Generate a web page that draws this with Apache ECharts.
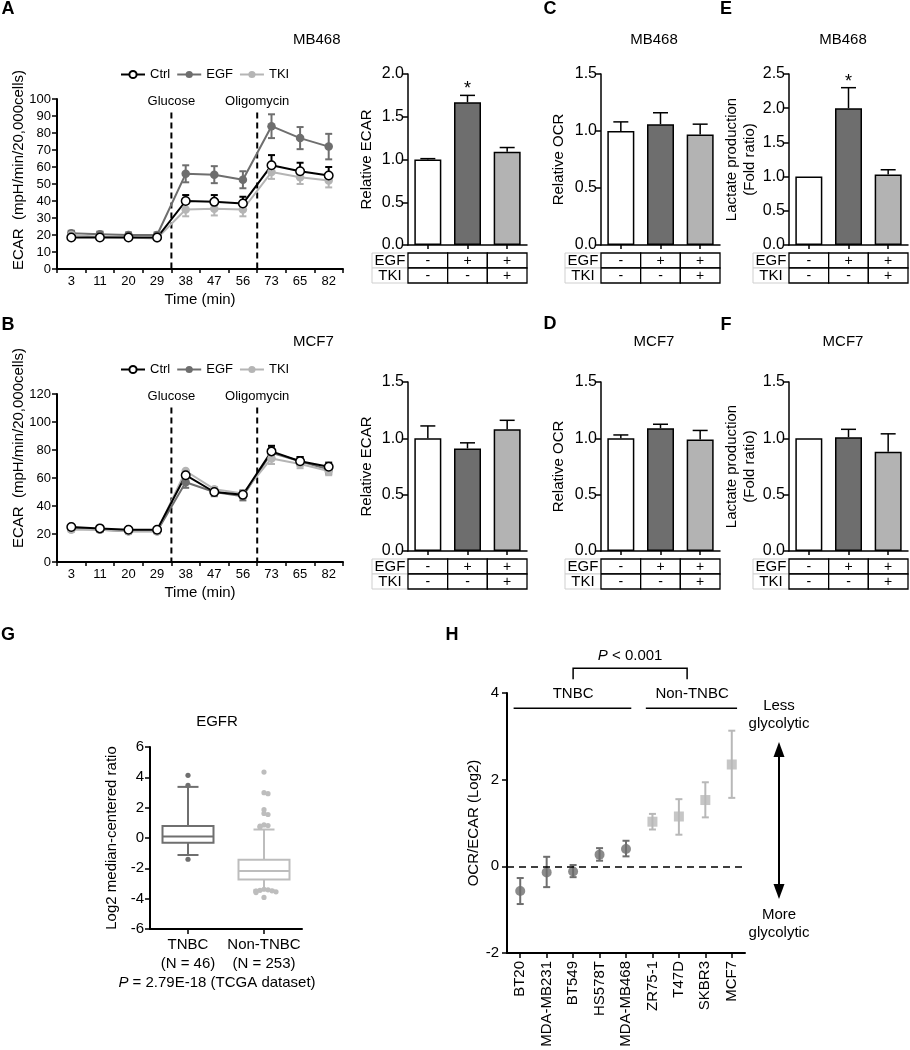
<!DOCTYPE html>
<html><head><meta charset="utf-8">
<script src="https://cdn.jsdelivr.net/npm/echarts@6/dist/echarts.min.js"></script>
<style>html,body{margin:0;padding:0;background:#fff}#c{width:910px;height:1050px}</style>
</head><body><div id="c"></div><script>
// ---------------- DATA ----------------
const timeLabels = ['3','11','20','29','38','47','56','73','65','82'];
const injections = ['Glucose','Oligomycin'];
const injectionAfter = [3, 6];
const seriesNames = ['Ctrl','EGF','TKI'];

const mb468Ctrl    = [18.5,18.5,18.5,18.5,40,39.5,38.5,61,57.5,55];
const mb468CtrlErr = [1,1,1,1,3.5,4,4,6,5,5];
const mb468Egf     = [21,20.5,20,20,56,55.5,52.5,84,77,72];
const mb468EgfErr  = [1.5,1.5,1.5,1.5,5,5,5,7,6.5,7.5];
const mb468Tki     = [20,19,18.5,18,35,35.5,35,57,54,52];
const mb468TkiErr  = [1,1,1,1,4,4,4,4,4,4];

const mcf7Ctrl    = [25,24,23,23,62,50,48,79,72,68];
const mcf7CtrlErr = [1.5,1.5,1.5,1.5,3,3,3,4,3,3];
const mcf7Egf     = [24,23,22,22,57,50,47,78,72,66];
const mcf7EgfErr  = [1.5,1.5,1.5,1.5,4,3,3,4,3,3];
const mcf7Tki     = [23,23,22,22,65,52,49,74,70,65];
const mcf7TkiErr  = [1.5,1.5,1.5,1.5,3,3,3,4,3,3];

const conditions = ['Ctrl','EGF','TKI'];
const tableRows = ['EGF','TKI'];
const egfRow = ['-','+','+'];
const tkiRow = ['-','-','+'];

const ecarMB468 = [1.0,1.67,1.09];  const ecarMB468Err = [0.01,0.08,0.05]; const ecarMB468Sig = ['','*',''];
const ocrMB468  = [1.0,1.06,0.97];  const ocrMB468Err  = [0.08,0.10,0.09]; const ocrMB468Sig  = ['','',''];
const lacMB468  = [1.0,2.0,1.03];   const lacMB468Err  = [0,0.30,0.07];    const lacMB468Sig  = ['','*',''];
const ecarMCF7  = [1.0,0.91,1.08];  const ecarMCF7Err  = [0.11,0.05,0.08]; const ecarMCF7Sig  = ['','',''];
const ocrMCF7   = [1.0,1.09,0.99];  const ocrMCF7Err   = [0.03,0.035,0.08]; const ocrMCF7Sig  = ['','',''];
const lacMCF7   = [1.0,1.01,0.88];  const lacMCF7Err   = [0,0.07,0.16];    const lacMCF7Sig   = ['','',''];

const boxGroups = ['TNBC','Non-TNBC'];
const boxN = [46, 253];
const tnbcBox    = [-1.12,-0.32,0.1,0.79,3.37];   // min, Q1, median, Q3, max
const nonTnbcBox = [-3.42,-2.74,-2.17,-1.43,0.56];
const tnbcOut    = [4.13,3.47,-1.4];
const nonTnbcOut = [4.35,2.99,2.92,1.87,1.62,1.55,0.86,0.82,0.78,0.72,
                    -3.38,-3.42,-3.45,-3.48,-3.5,-3.52,-3.55,-3.6,-3.92];

const cellLines = ['BT20','MDA-MB231','BT549','HS578T','MDA-MB468','ZR75-1','T47D','SKBR3','MCF7'];
const cellGroup = ['TNBC','TNBC','TNBC','TNBC','TNBC','Non-TNBC','Non-TNBC','Non-TNBC','Non-TNBC'];
const ocrEcar     = [-0.57,-0.14,-0.12,0.27,0.40,1.03,1.15,1.53,2.35];
const ocrEcarLow  = [-0.87,-0.48,-0.25,0.13,0.23,0.85,0.73,1.13,1.58];
const ocrEcarHigh = [-0.27,0.22,0.03,0.42,0.59,1.21,1.55,1.94,3.13];
const groupSpans = [[0,4],[5,8]];

// ---------------- STYLE ----------------
const FONT = "'Liberation Sans', Arial, Helvetica, sans-serif";
const F = s => s + 'px ' + FONT;
const C_CTRL = '#000000', C_EGF = '#6e6e6e', C_TKI = '#b5b5b5';
const condFill = ['#ffffff', '#6e6e6e', '#b3b3b3'];
const lineColors = {Ctrl:C_CTRL, EGF:C_EGF, TKI:C_TKI};

const grid = [], xAxis = [], yAxis = [], series = [];

function blackAxisLine(w){ return {show:true, onZero:false, lineStyle:{color:'#000', width:w}}; }
function ticks(len, align){ return {show:true, length:len, alignWithLabel:!!align, lineStyle:{color:'#000', width:1.5}}; }

// ---------- line charts ----------
function addLineChart(rect, ymax, yint, vals, errs) {
  const gi = grid.length;
  grid.push(Object.assign({outerBoundsMode:'none', containLabel:false}, rect));
  xAxis.push({gridIndex:gi, type:'category', data:timeLabels, boundaryGap:true,
    axisLine:blackAxisLine(2), axisTick:ticks(4,false),
    axisLabel:{color:'#000', fontSize:13, fontFamily:FONT, margin:6, interval:0},
    name:'Time (min)', nameLocation:'middle', nameGap:23,
    nameTextStyle:{color:'#000', fontSize:15, fontFamily:FONT}, splitLine:{show:false}});
  yAxis.push({gridIndex:gi, type:'value', min:0, max:ymax, interval:yint,
    axisLine:blackAxisLine(2), axisTick:ticks(5),
    axisLabel:{color:'#000', fontSize:13, fontFamily:FONT, margin:6}, splitLine:{show:false}});
  series.push({type:'custom', xAxisIndex:gi, yAxisIndex:gi, silent:true, z:1,
    data: injectionAfter.map(i => [i, 0]), encode:{x:0, y:1},
    renderItem:(p, api) => {
      const bw = api.size([1,0])[0];
      const x = api.coord([api.value(0), 0])[0] + bw/2;
      const y0 = api.coord([0, 0])[1];
      const yTop = api.coord([0, ymax*0.92])[1];
      const yTxt = api.coord([0, ymax*0.985])[1];
      return {type:'group', children:[
        {type:'line', shape:{x1:x, y1:yTop, x2:x, y2:y0}, style:{stroke:'#000', lineWidth:2, lineDash:[6,4]}},
        {type:'text', x:x, y:yTxt, style:{text:injections[p.dataIndex], fill:'#000', font:F(13), align:'center', verticalAlign:'middle'}}
      ]};
    }});
  const dirs = {Ctrl:1, EGF:0, TKI:-1};
  ['EGF','TKI','Ctrl'].forEach(nm => {
    const v = vals[nm], e = errs[nm], col = lineColors[nm], dir = dirs[nm];
    series.push({type:'custom', xAxisIndex:gi, yAxisIndex:gi, silent:true, z:2,
      data: v.map((y,i) => [i, y, e[i]]), encode:{x:0, y:1},
      renderItem:(p, api) => {
        const i = api.value(0), y = api.value(1), er = api.value(2);
        const x = api.coord([i, y])[0];
        const hi = api.coord([i, dir >= 0 ? y + er : y])[1];
        const lo = api.coord([i, dir <= 0 ? y - er : y])[1];
        const w = 3.5, st = {stroke:col, lineWidth:2};
        const ch = [{type:'line', shape:{x1:x, y1:hi, x2:x, y2:lo}, style:st}];
        if (dir >= 0) ch.push({type:'line', shape:{x1:x-w, y1:hi, x2:x+w, y2:hi}, style:st});
        if (dir <= 0) ch.push({type:'line', shape:{x1:x-w, y1:lo, x2:x+w, y2:lo}, style:st});
        return {type:'group', children:ch};
      }});
  });
  ['EGF','TKI','Ctrl'].forEach(nm => {
    const col = lineColors[nm];
    series.push({type:'line', name:nm, xAxisIndex:gi, yAxisIndex:gi, data:vals[nm], z:3,
      symbol:'circle', symbolSize:8.5, showSymbol:true, silent:true,
      lineStyle:{color:col, width:2},
      itemStyle: nm === 'Ctrl' ? {color:'#ffffff', borderColor:'#000', borderWidth:1.5} : {color:col, borderColor:col, borderWidth:0}});
  });
}

// ---------- bar charts ----------
function addBarChart(rect, ymax, vals, errs, sig, yName, nameGap) {
  const gi = grid.length;
  grid.push(Object.assign({outerBoundsMode:'none', containLabel:false}, rect));
  xAxis.push({gridIndex:gi, type:'category', data:conditions, boundaryGap:true,
    axisLine:blackAxisLine(1.5), axisTick:ticks(4,true), axisLabel:{show:false}, splitLine:{show:false}});
  yAxis.push({gridIndex:gi, type:'value', min:0, max:ymax, interval:0.5,
    axisLine:blackAxisLine(1.5), axisTick:ticks(5),
    axisLabel:{color:'#000', fontSize:16, fontFamily:FONT, margin:4, formatter:v => v.toFixed(1)},
    splitLine:{show:false},
    name:yName, nameLocation:'middle', nameGap:nameGap,
    nameTextStyle:{color:'#000', fontSize:15, fontFamily:FONT, lineHeight:18}});
  series.push({type:'bar', xAxisIndex:gi, yAxisIndex:gi, barWidth:27, silent:true, z:2,
    data: vals.map((v,i) => ({value:v, itemStyle:{color:condFill[i]}})),
    itemStyle:{borderColor:'#000', borderWidth:1.5}});
  series.push({type:'custom', xAxisIndex:gi, yAxisIndex:gi, silent:true, z:3,
    data: vals.map((v,i) => [i, v, errs[i]]), encode:{x:0, y:1},
    renderItem:(p, api) => {
      const i = api.value(0), v = api.value(1), e = api.value(2);
      const b = api.coord([i, v]), t = api.coord([i, v + e]);
      const st = {stroke:'#000', lineWidth:1.5};
      const ch = [];
      if (e > 0) {
        ch.push({type:'line', shape:{x1:b[0], y1:b[1], x2:b[0], y2:t[1]}, style:st});
        ch.push({type:'line', shape:{x1:b[0]-7.5, y1:t[1], x2:b[0]+7.5, y2:t[1]}, style:st});
      }
      if (sig[i]) ch.push({type:'text', x:b[0], y:t[1]+3, style:{text:sig[i], fill:'#000', font:F(18), align:'center', verticalAlign:'bottom'}});
      return {type:'group', children:ch};
    }});
}

// ---------- condition tables ----------
function addTable(rect) {
  const gi = grid.length;
  grid.push(Object.assign({outerBoundsMode:'none', containLabel:false}, rect));
  xAxis.push({gridIndex:gi, type:'category', data:conditions, show:false});
  yAxis.push({gridIndex:gi, type:'category', data:tableRows, inverse:true, show:false});
  const rowVals = [egfRow, tkiRow];
  const d = [];
  for (let r = 0; r < tableRows.length; r++) for (let c = 0; c < conditions.length; c++) d.push([c, r]);
  series.push({type:'custom', xAxisIndex:gi, yAxisIndex:gi, silent:true, z:2, data:d, encode:{x:0, y:1},
    renderItem:(p, api) => {
      const c = api.value(0), r = api.value(1);
      const ctr = api.coord([c, r]), sz = api.size([1, 1]);
      const x0 = ctr[0] - sz[0]/2, y0 = ctr[1] - sz[1]/2;
      const ch = [];
      if (c === 0) {
        const lw = 36;
        ch.push({type:'rect', shape:{x:x0-lw, y:y0, width:lw, height:sz[1]}, style:{fill:'#fff', stroke:'#cfcfcf', lineWidth:1}});
        ch.push({type:'text', x:x0-lw/2, y:ctr[1]+0.5, style:{text:tableRows[r], fill:'#000', font:F(15), align:'center', verticalAlign:'middle'}});
      }
      ch.push({type:'rect', shape:{x:x0, y:y0, width:sz[0], height:sz[1]}, style:{fill:'#fff', stroke:'#000', lineWidth:1.3}});
      ch.push({type:'text', x:ctr[0], y:ctr[1]+0.5, style:{text:rowVals[r][c], fill:'#000', font:F(14), align:'center', verticalAlign:'middle'}});
      return {type:'group', children:ch};
    }});
}

// ---------- build panels ----------
addLineChart({left:57, top:99, width:286, height:170}, 100, 10,
  {Ctrl:mb468Ctrl, EGF:mb468Egf, TKI:mb468Tki}, {Ctrl:mb468CtrlErr, EGF:mb468EgfErr, TKI:mb468TkiErr});
addLineChart({left:57, top:394, width:286, height:168}, 120, 20,
  {Ctrl:mcf7Ctrl, EGF:mcf7Egf, TKI:mcf7Tki}, {Ctrl:mcf7CtrlErr, EGF:mcf7EgfErr, TKI:mcf7TkiErr});

const row1 = {top:74, height:171}, row2 = {top:382, height:169};
const colA = 408, colC = 601, colE = 789, bw = 119;
addBarChart({left:colA, top:row1.top, width:bw, height:row1.height}, 2.0, ecarMB468, ecarMB468Err, ecarMB468Sig, 'Relative ECAR', 32);
addBarChart({left:colC, top:row1.top, width:bw, height:row1.height}, 1.5, ocrMB468, ocrMB468Err, ocrMB468Sig, 'Relative OCR', 33);
addBarChart({left:colE, top:row1.top, width:bw, height:row1.height}, 2.5, lacMB468, lacMB468Err, lacMB468Sig, 'Lactate production\n(Fold ratio)', 24);
addBarChart({left:colA, top:row2.top, width:bw, height:row2.height}, 1.5, ecarMCF7, ecarMCF7Err, ecarMCF7Sig, 'Relative ECAR', 32);
addBarChart({left:colC, top:row2.top, width:bw, height:row2.height}, 1.5, ocrMCF7, ocrMCF7Err, ocrMCF7Sig, 'Relative OCR', 33);
addBarChart({left:colE, top:row2.top, width:bw, height:row2.height}, 1.5, lacMCF7, lacMCF7Err, lacMCF7Sig, 'Lactate production\n(Fold ratio)', 24);

[colA, colC, colE].forEach(l => addTable({left:l, top:253, width:bw, height:30}));
[colA, colC, colE].forEach(l => addTable({left:l, top:559, width:bw, height:30}));

// ---------- G : boxplot ----------
(function(){
  const gi = grid.length;
  grid.push({left:150, top:747, width:152, height:182, outerBoundsMode:'none', containLabel:false});
  xAxis.push({gridIndex:gi, type:'category', data:boxGroups, boundaryGap:true,
    axisLine:blackAxisLine(2), axisTick:ticks(5,true),
    axisLabel:{color:'#000', fontSize:15, fontFamily:FONT, margin:6, lineHeight:19, interval:0,
      formatter:(v, i) => v + '\n(N = ' + boxN[i] + ')'}, splitLine:{show:false}});
  yAxis.push({gridIndex:gi, type:'value', min:-6, max:6, interval:2,
    axisLine:blackAxisLine(2), axisTick:ticks(5),
    axisLabel:{color:'#000', fontSize:15, fontFamily:FONT, margin:6}, splitLine:{show:false},
    name:'Log2 median-centered ratio', nameLocation:'middle', nameGap:31,
    nameTextStyle:{color:'#000', fontSize:15, fontFamily:FONT}});
  const boxCols = ['#6f6f6f', '#bdbdbd'];
  series.push({type:'custom', xAxisIndex:gi, yAxisIndex:gi, silent:true, z:2,
    data:[[0].concat(tnbcBox), [1].concat(nonTnbcBox)], encode:{x:0, y:[1,2,3,4,5]},
    renderItem:(p, api) => {
      const i = api.value(0), col = boxCols[i];
      const x = api.coord([i, 0])[0];
      const Y = k => api.coord([i, api.value(k)])[1];
      const mn = Y(1), q1 = Y(2), md = Y(3), q3 = Y(4), mx = Y(5);
      const hw = 25.5, cw = 10.5, st = {stroke:col, lineWidth:2};
      return {type:'group', children:[
        {type:'line', shape:{x1:x, y1:mx, x2:x, y2:q3}, style:st},
        {type:'line', shape:{x1:x, y1:q1, x2:x, y2:mn}, style:st},
        {type:'line', shape:{x1:x-cw, y1:mx, x2:x+cw, y2:mx}, style:st},
        {type:'line', shape:{x1:x-cw, y1:mn, x2:x+cw, y2:mn}, style:st},
        {type:'rect', shape:{x:x-hw, y:q3, width:2*hw, height:q1-q3}, style:{fill:'#fff', stroke:col, lineWidth:2}},
        {type:'line', shape:{x1:x-hw, y1:md, x2:x+hw, y2:md}, style:st}
      ]};
    }});
  // outliers: simple beeswarm spreading of near-equal values (layout only)
  function swarm(vals) {
    const placed = [];
    return vals.map(v => {
      const k = placed.filter(u => Math.abs(u - v) < 0.13).length;
      placed.push(v);
      return k === 0 ? 0 : (k % 2 ? 1 : -1) * Math.ceil(k / 2);
    });
  }
  [[tnbcOut, 0], [nonTnbcOut, 1]].forEach(([arr, g]) => {
    const offs = swarm(arr);
    series.push({type:'custom', xAxisIndex:gi, yAxisIndex:gi, silent:true, z:3,
      data: arr.map(v => [g, v]), encode:{x:0, y:1},
      renderItem:(p, api) => {
        const c = api.coord([api.value(0), api.value(1)]);
        return {type:'circle', shape:{cx:c[0] + offs[p.dataIndex]*4, cy:c[1], r:2.6}, style:{fill:boxCols[g]}};
      }});
  });
})();

// ---------- H : OCR/ECAR ----------
(function(){
  const gi = grid.length;
  grid.push({left:507, top:693, width:238, height:260, outerBoundsMode:'none', containLabel:false});
  xAxis.push({gridIndex:gi, type:'category', data:cellLines, boundaryGap:true,
    axisLine:blackAxisLine(2), axisTick:ticks(5,true),
    axisLabel:{color:'#000', fontSize:15, fontFamily:FONT, margin:8, rotate:90, interval:0}, splitLine:{show:false}});
  yAxis.push({gridIndex:gi, type:'value', min:-2, max:4, interval:2,
    axisLine:blackAxisLine(2), axisTick:ticks(5),
    axisLabel:{color:'#000', fontSize:15, fontFamily:FONT, margin:8}, splitLine:{show:false},
    name:'OCR/ECAR (Log2)', nameLocation:'middle', nameGap:23,
    nameTextStyle:{color:'#000', fontSize:15, fontFamily:FONT}});
  const gCol = {'TNBC':'#6e6e6e', 'Non-TNBC':'#b8b8b8'};
  series.push({type:'custom', xAxisIndex:gi, yAxisIndex:gi, silent:true, z:2,
    data: ocrEcar.map((v,i) => [i, ocrEcarLow[i], ocrEcarHigh[i]]), encode:{x:0, y:[1,2]},
    renderItem:(p, api) => {
      const i = api.value(0), col = gCol[cellGroup[i]];
      const lo = api.coord([i, api.value(1)]), hi = api.coord([i, api.value(2)]);
      const w = 3.5, st = {stroke:col, lineWidth:2};
      return {type:'group', children:[
        {type:'line', shape:{x1:lo[0], y1:lo[1], x2:hi[0], y2:hi[1]}, style:st},
        {type:'line', shape:{x1:lo[0]-w, y1:lo[1], x2:lo[0]+w, y2:lo[1]}, style:st},
        {type:'line', shape:{x1:hi[0]-w, y1:hi[1], x2:hi[0]+w, y2:hi[1]}, style:st}
      ]};
    }});
  series.push({type:'scatter', xAxisIndex:gi, yAxisIndex:gi, silent:true, z:3, symbol:'circle', symbolSize:10,
    data: ocrEcar.map((v,i) => [i, v]).filter((d,i) => cellGroup[i] === 'TNBC'), itemStyle:{color:gCol['TNBC']},
    markLine:{silent:true, symbol:'none', label:{show:false}, animation:false,
      lineStyle:{type:[7,5], color:'#000', width:1.5}, data:[{yAxis:0}]}});
  series.push({type:'scatter', xAxisIndex:gi, yAxisIndex:gi, silent:true, z:3, symbol:'rect', symbolSize:10,
    data: ocrEcar.map((v,i) => [i, v]).filter((d,i) => cellGroup[i] === 'Non-TNBC'), itemStyle:{color:gCol['Non-TNBC']}});
  const grpNames = ['TNBC','Non-TNBC'];
  series.push({type:'custom', xAxisIndex:gi, yAxisIndex:gi, silent:true, z:2,
    data: groupSpans.map(s => [s[0], s[1], 0]), encode:{x:[0,1], y:2},
    renderItem:(p, api) => {
      const a = api.coord([api.value(0), 3.65]), b = api.coord([api.value(1), 3.65]);
      const band = api.size([1,0])[0];
      const tY = api.coord([0, 3.97])[1];
      return {type:'group', children:[
        {type:'line', shape:{x1:a[0]-0.25*band, y1:a[1], x2:b[0]+0.2*band, y2:b[1]}, style:{stroke:'#000', lineWidth:1.5}},
        {type:'text', x:(a[0]+b[0])/2, y:tY, style:{text:grpNames[p.dataIndex], fill:'#000', font:F(15), align:'center', verticalAlign:'middle'}}
      ]};
    }});
  series.push({type:'custom', xAxisIndex:gi, yAxisIndex:gi, silent:true, z:2,
    data: [[groupSpans[0][0], groupSpans[0][1], groupSpans[1][0], groupSpans[1][1], 0]], encode:{x:[0,1,2,3], y:4},
    renderItem:(p, api) => {
      const m1 = (api.coord([api.value(0), 0])[0] + api.coord([api.value(1), 0])[0]) / 2;
      const m2 = (api.coord([api.value(2), 0])[0] + api.coord([api.value(3), 0])[0]) / 2 - 5;
      const top = api.coord([0, 4.57])[1], leg = api.coord([0, 4.32])[1], tY = api.coord([0, 4.86])[1];
      return {type:'group', children:[
        {type:'polyline', shape:{points:[[m1, leg], [m1, top], [m2, top], [m2, leg]]}, style:{stroke:'#000', lineWidth:1.5, fill:null}},
        {type:'text', x:(m1+m2)/2, y:tY, style:{text:'{i|P} < 0.001', fill:'#000', font:F(15), align:'center', verticalAlign:'middle',
          rich:{i:{fontStyle:'italic', fontSize:15, fontFamily:FONT, fill:'#000'}}}}
      ]};
    }});
})();

// ---------------- annotations ----------------
function txt(x, y, t, size, opt) {
  return Object.assign({type:'text', x:x, y:y, silent:true,
    style:Object.assign({text:t, fill:'#000', font:F(size), align:'center', verticalAlign:'middle'}, (opt && opt.style) || {})},
    opt && opt.rotation ? {rotation:opt.rotation} : {});
}
const BOLD = s => 'bold ' + s + 'px ' + FONT;
const letters = [['A',8,9],['B',8,325],['C',550,9],['D',550,324],['E',726,9],['F',726,325],['G',8,635],['H',452,635]];
const graphics = letters.map(l => txt(l[1], l[2], l[0], 18, {style:{font:BOLD(18)}}));
graphics.push(txt(293, 40, 'MB468', 15, {style:{align:'left'}}));
graphics.push(txt(293, 342, 'MCF7', 15, {style:{align:'left'}}));
graphics.push(txt(654, 40, 'MB468', 15));
graphics.push(txt(843, 40, 'MB468', 15));
graphics.push(txt(654, 342, 'MCF7', 15));
graphics.push(txt(843, 342, 'MCF7', 15));
graphics.push(txt(19, 170, 'ECAR  (mpH/min/20,000cells)', 15, {rotation:Math.PI/2}));
graphics.push(txt(19, 448, 'ECAR  (mpH/min/20,000cells)', 15, {rotation:Math.PI/2}));
graphics.push(txt(217, 722, 'EGFR', 15));
graphics.push(txt(217, 983, '{i|P} = 2.79E-18 (TCGA dataset)', 15,
  {style:{rich:{i:{fontStyle:'italic', fontSize:15, fontFamily:FONT, fill:'#000'}}}}));
graphics.push(txt(779, 715, 'Less\nglycolytic', 15, {style:{lineHeight:18}}));
graphics.push(txt(779, 924, 'More\nglycolytic', 15, {style:{lineHeight:18}}));
graphics.push({type:'line', silent:true, shape:{x1:779, y1:752, x2:779, y2:889}, style:{stroke:'#000', lineWidth:2}});
graphics.push({type:'polygon', silent:true, shape:{points:[[779,742],[773.5,757],[784.5,757]]}, style:{fill:'#000'}});
graphics.push({type:'polygon', silent:true, shape:{points:[[779,899],[773.5,884],[784.5,884]]}, style:{fill:'#000'}});

const legendBase = {data:seriesNames, left:120, itemWidth:24, itemHeight:9, itemGap:6, selectedMode:false,
  textStyle:{color:'#000', fontSize:13, fontFamily:FONT}, padding:0};

const chart = echarts.init(document.getElementById('c'), null, {renderer:'canvas', width:910, height:1050});
chart.setOption({
  animation:false,
  backgroundColor:'#ffffff',
  textStyle:{fontFamily:FONT},
  legend:[Object.assign({top:68}, legendBase), Object.assign({top:363}, legendBase)],
  grid, xAxis, yAxis, series,
  graphic:{elements:graphics}
});
</script></body></html>
